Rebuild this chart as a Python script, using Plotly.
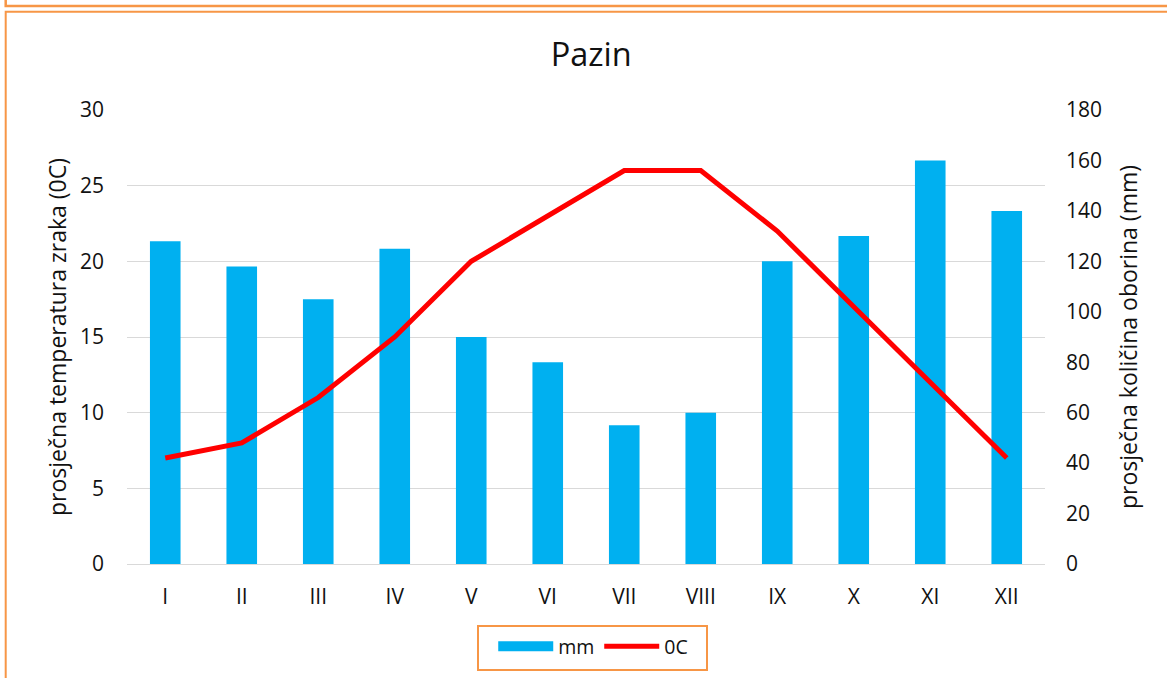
import plotly.graph_objects as go

# ---- data ----
months = ["I", "II", "III", "IV", "V", "VI", "VII", "VIII", "IX", "X", "XI", "XII"]
precip_mm = [128, 118, 105, 125, 90, 80, 55, 60, 120, 130, 160, 140]
temp_c = [7, 8, 11, 15, 20, 23, 26, 26, 22, 17, 12, 7]

W, H = 1167, 678
L, R, T, B = 127, 1045, 110, 564  # plot area in px

def px(xp):
    return (xp - L) / (R - L)

def py(yp):
    return (B - yp) / (B - T)

FONT = "Open Sans"
TXT = "#111111"
ORANGE = "#F79646"
BLUE = "#00B0F0"
RED = "#FF0000"
GRID = "#D9D9D9"
TICK_FS = 21
TITLE_FS = 23
LEG_FS = 19.5

fig = go.Figure()

fig.add_trace(go.Bar(
    x=months, y=precip_mm, name="mm", yaxis="y",
    marker=dict(color=BLUE, line=dict(width=0)),
    showlegend=False, legendgroup="mm",
))
# legend entry for bars (wide rectangle like the original)
fig.add_trace(go.Scatter(
    x=[None], y=[None], mode="lines", name="mm", legendgroup="mm",
    line=dict(color=BLUE, width=13),
))
fig.add_trace(go.Scatter(
    x=months, y=temp_c, name="0C", mode="lines", yaxis="y2",
    line=dict(color=RED, width=5),
))

shapes = [
    # bottom edge of the previous box
    dict(type="path", xref="paper", yref="paper",
         path=f"M {px(5.7)},{py(-2)} L {px(5.7)},{py(6)} L {px(W + 5)},{py(6)}",
         line=dict(color=ORANGE, width=2.5)),
    # this chart's box (top + left)
    dict(type="path", xref="paper", yref="paper",
         path=f"M {px(W + 5)},{py(11.8)} L {px(5.7)},{py(11.8)} L {px(5.7)},{py(H + 5)}",
         line=dict(color=ORANGE, width=2)),
]

fig.update_layout(
    width=W, height=H,
    margin=dict(l=L, r=W - R, t=T, b=H - B, autoexpand=False),
    paper_bgcolor="white", plot_bgcolor="white",
    font=dict(family=FONT, size=TICK_FS, color=TXT),
    title=dict(text="Pazin", x=px(592), xanchor="center", y=1 - 55 / H, yanchor="middle",
               font=dict(size=32.5, color=TXT)),
    bargap=0.6,
    xaxis=dict(showgrid=False, showline=True, linecolor=GRID, linewidth=1,
               ticks="", ticklabelstandoff=14, tickfont=dict(size=TICK_FS)),
    # precipitation axis (right)
    yaxis=dict(range=[0, 180], dtick=20, side="right", showgrid=False,
               zeroline=False, showline=False, ticks="", ticklabelstandoff=20,
               tickfont=dict(size=TICK_FS),
               title=dict(text="prosječna količina oborina (mm)", font=dict(size=TITLE_FS), standoff=19)),
    # temperature axis (left)
    yaxis2=dict(range=[0, 30], dtick=5, overlaying="y", side="left",
                showgrid=True, gridcolor=GRID, gridwidth=1,
                zeroline=False, showline=False, ticks="", ticklabelstandoff=22,
                tickfont=dict(size=TICK_FS),
                title=dict(text="prosječna temperatura zraka (0C)", font=dict(size=TITLE_FS), standoff=6)),
    legend=dict(orientation="h", x=px(592.5), xanchor="center", y=py(625), yanchor="top",
                bordercolor=ORANGE, borderwidth=2, bgcolor="white",
                font=dict(size=LEG_FS, color=TXT), itemwidth=55,
                entrywidth=36, entrywidthmode="pixels",
                title=dict(text="\u00a0", side="left", font=dict(size=24))),
    shapes=shapes,
)

fig.write_html("out.html", config={"displayModeBar": False},
               post_script="document.body.style.margin='0';")
